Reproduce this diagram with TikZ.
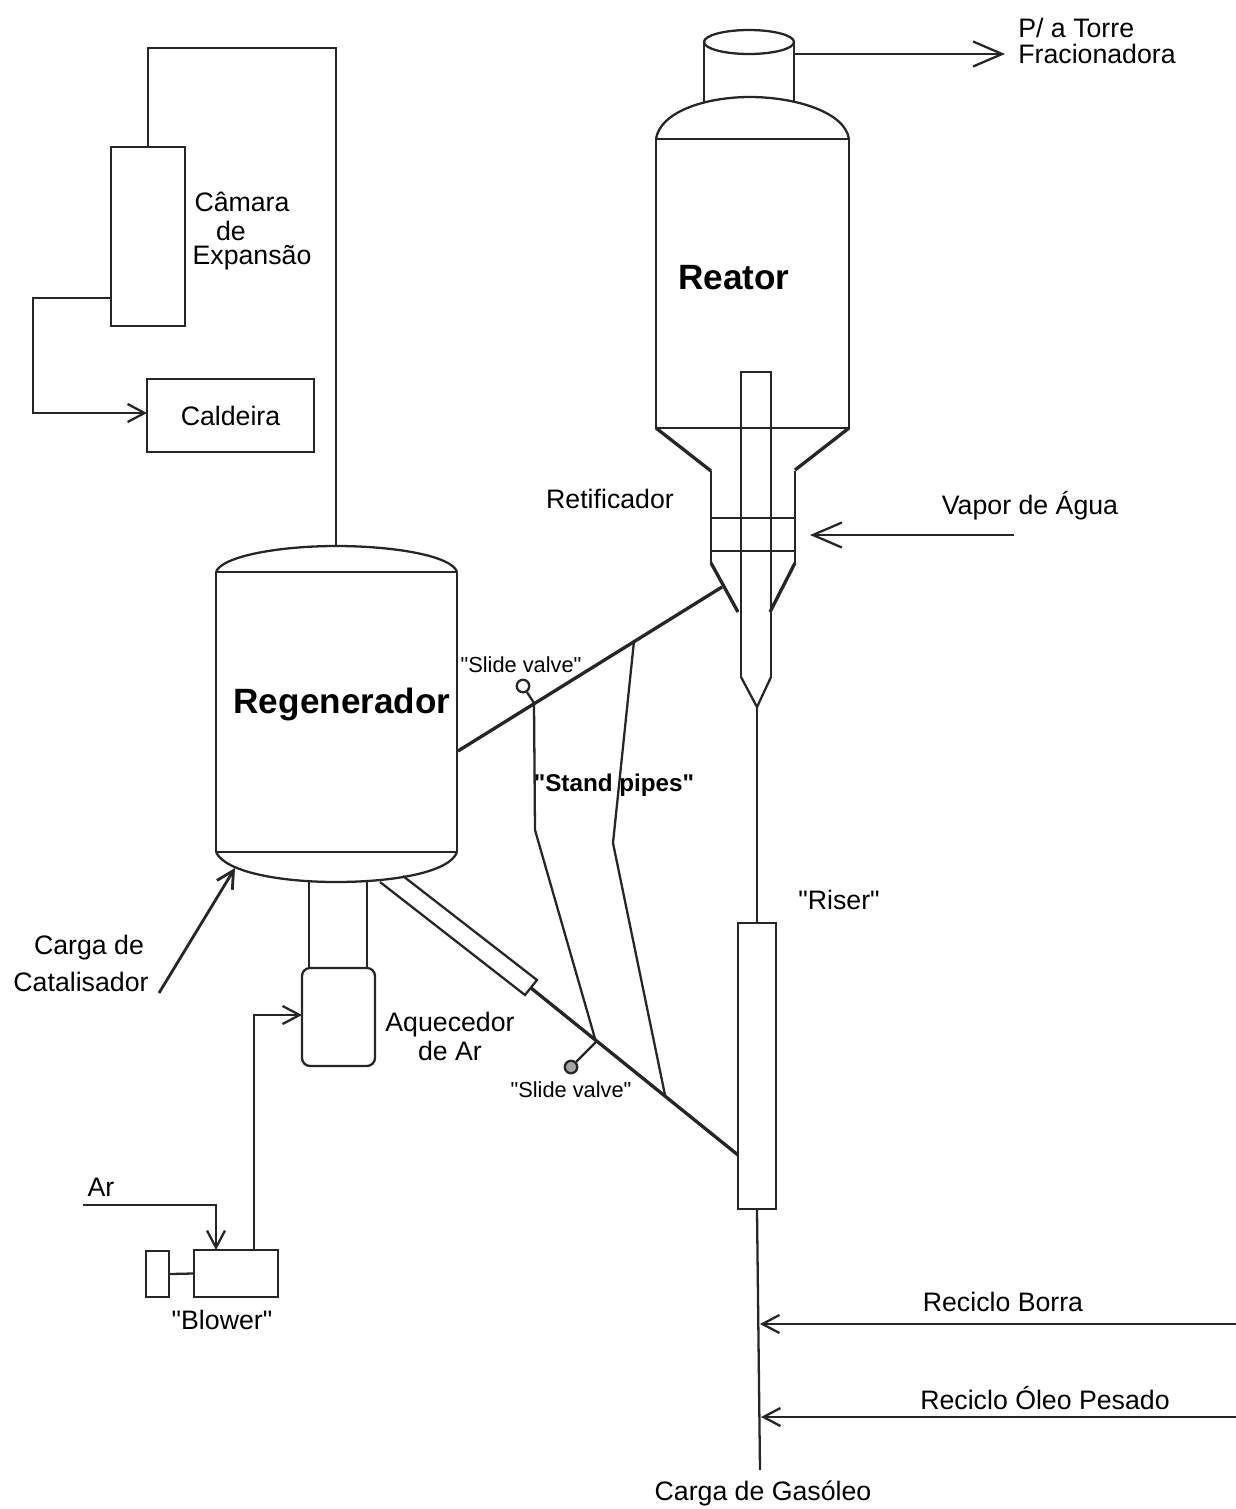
\documentclass[tikz,border=0pt]{standalone}
\usepackage{fontspec}
\setmainfont{Liberation Sans}
\newfontfamily\plainquote{Liberation Sans}
\newcommand\quoted[1]{{\plainquote"#1"}}
\usetikzlibrary{arrows.meta}

\tikzset{
  line/.style={line width=1.3pt,black!85},
  pipe/.style={line width=1.9pt,black!85},
  bigflow/.style={line,-{Straight Barb[length=0.58cm,width=0.5cm]}},
  smallflow/.style={line,-{Straight Barb[length=0.34cm,width=0.36cm]}},
  unitbox/.style={draw,line,text=black,inner sep=0pt,align=center},
  labeltext/.style={inner sep=0pt,align=center,font=\fontsize{15.2}{16}\selectfont},
  smalltext/.style={inner sep=0pt,font=\fontsize{12.4}{14}\selectfont},
  titletext/.style={inner sep=0pt,font=\fontsize{20}{24}\selectfont\bfseries},
  valveball/.style={circle,draw,line,inner sep=0pt,minimum size=0.25cm}
}

\begin{document}
\begin{tikzpicture}[x=0.02cm,y=-0.02cm]
\useasboundingbox (0,0) rectangle (1236,1509);

% Reactor
\draw[line] (749,42) ellipse [x radius=45,y radius=12];
\draw[line] (704,42) -- (704,102);
\draw[line] (794,42) -- (794,102);
\draw[line] (656,139) .. controls (660,112) and (705,97) .. (750,97)
    .. controls (795,97) and (845,112) .. (849,139);
\draw[line] (656,139) -- (849,139);
\draw[line] (656,139) -- (656,428) -- (849,428) -- (849,139);
\draw[pipe] (656,428) -- (711,471);
\draw[pipe] (849,428) -- (795,470);
\draw[line] (711,471) -- (711,563);
\draw[line] (795,471) -- (795,563);
\draw[pipe] (711,563) -- (738,612);
\draw[pipe] (795,563) -- (770,612);
\draw[line] (711,518) -- (795,518);
\draw[line] (711,551) -- (795,551);
\node[titletext] (reator) at (734,278) {Reator};

% Inner tube of the riser
\draw[line] (741,677) -- (741,372) -- (771,372) -- (771,677);
\draw[line] (741,677) -- (757,707) -- (771,677);
\coordinate (risertip) at (757,707);
\node[unitbox,minimum width=0.76cm,minimum height=5.72cm] (riser) at (757,1066) {};
\coordinate (feedend) at (760,1470);
\draw[line] (risertip) -- (riser.north);
\draw[line] (riser.south) -- (feedend);

% Regenerator
\draw[line] (216,572) .. controls (222,556) and (280,546) .. (336,546)
    .. controls (395,546) and (452,556) .. (457,572);
\draw[line] (216,572) -- (457,572);
\draw[line] (216,572) -- (216,852);
\draw[line] (457,572) -- (457,852);
\draw[line] (216,852) -- (457,852);
\draw[line] (216,852) .. controls (225,872) and (280,882) .. (336,882)
    .. controls (395,882) and (450,872) .. (457,852);
\node[titletext] (regenerador) at (342,704) {Regenerador};

% Flue gas side
\node[unitbox,minimum width=1.48cm,minimum height=3.58cm] (camara) at (148,236.5) {};
\node[unitbox,minimum width=3.34cm,minimum height=1.46cm,font=\fontsize{15.2}{16}\selectfont] (caldeira) at (230.5,415.5) {Caldeira};
\coordinate (regentop) at (336,546);
\coordinate (fluecorner) at (336,48);
\draw[line] (regentop) -- (fluecorner) -| (camara.north);
\coordinate (camaraout) at (111,298);
\coordinate (caldeirain) at (147,413);
\coordinate (boilerbend) at (33,298);
\draw[smallflow] (camaraout) -- (boilerbend) |- (caldeirain);
\node[labeltext] (camaralabel) at (242,202) {Câmara};
\node[labeltext] (delabel) at (231,231) {de};
\node[labeltext] (expansao) at (252,258) {Expansão};

% Air heater and blower
\draw[line] (309,882) -- (309,968);
\draw[line] (367,882) -- (367,968);
\node[unitbox,rounded corners=0.16cm,minimum width=1.46cm,minimum height=1.96cm] (aquecedor) at (338.5,1017) {};
\node[unitbox,minimum width=1.68cm,minimum height=0.94cm] (blower) at (236,1273.5) {};
\node[unitbox,minimum width=0.46cm,minimum height=0.92cm] (motor) at (157.5,1274) {};
\draw[line] (motor.east) -- (blower.west);
\coordinate (blowerout) at (254,1250);
\coordinate (heaterin) at (302,1015);
\draw[smallflow] (blowerout) |- (heaterin);
\coordinate (airstart) at (83,1205);
\coordinate (blowerin) at (216,1250);
\draw[smallflow] (airstart) -| (blowerin);
\node[labeltext] (aquecedorlabel) at (450,1036) {Aquecedor\\[0.5pt]de Ar};
\node[labeltext] (ar) at (101,1187) {Ar};
\node[labeltext] (blowerlabel) at (222,1320) {\quoted{Blower}};

% Catalyst lines
\coordinate (regenout) at (458,751);
\coordinate (strippeout) at (722,587);
\draw[pipe] (regenout) -- (strippeout);
\coordinate (upjointa) at (534,703);
\coordinate (upjointb) at (634,641);
\coordinate (lowjointa) at (596,1042);
\coordinate (lowjointb) at (665,1095);
\coordinate (riserin) at (738,1155);
\coordinate (sleeveend) at (531,988);
\draw[line] (380,882) -- (525,995) -- (537,980) -- (403,876);
\draw[pipe] (sleeveend) -- (riserin);
\coordinate (bendleft) at (535,830);
\coordinate (bendright) at (613,843);
\draw[line] (upjointa) -- (bendleft) -- (lowjointa);
\draw[line] (upjointb) -- (bendright) -- (lowjointb);

% Slide valves
\node[valveball] (valveup) at (523,686) {};
\draw[line] (valveup) -- (upjointa);
\node[valveball,fill=black!35] (valvedown) at (571,1067) {};
\draw[line] (valvedown) -- (lowjointa);
\node[smalltext] (slideup) at (521,665) {\quoted{Slide valve}};
\node[smalltext] (slidedown) at (571,1090) {\quoted{Slide valve}};
\node[labeltext,font=\fontsize{13.8}{16}\selectfont\bfseries] (standpipes) at (614,785) {\quoted{Stand pipes}};
\node[labeltext] (riserlabel) at (839,900) {\quoted{Riser}};
\node[labeltext] (retificador) at (610,499) {Retificador};

% Feeds and products
\coordinate (topout) at (795,54);
\coordinate (topend) at (1005,54);
\draw[bigflow] (topout) -- (topend);
\node[labeltext,align=left,anchor=west] (torre) at (1018,41) {P/ a Torre\\[-1pt]Fracionadora};

\coordinate (steamstart) at (1014,535);
\coordinate (steamend) at (810,535);
\draw[bigflow] (steamstart) -- (steamend);
\node[labeltext] (vapor) at (1030,506) {Vapor de Água};

\coordinate (cargastart) at (159,993);
\coordinate (cargaend) at (235,868);
\draw[smallflow,line width=1.6pt] (cargastart) -- (cargaend);
\node[labeltext] (cargade) at (89,948) {Carga de};
\node[labeltext] (catalisador) at (81,982) {Catalisador};

\coordinate (borrastart) at (1236,1324);
\coordinate (borraend) at (760,1324);
\draw[smallflow] (borrastart) -- (borraend);
\node[labeltext] (borra) at (1003,1302) {Reciclo Borra};

\coordinate (oleostart) at (1236,1417);
\coordinate (oleoend) at (761,1417);
\draw[smallflow] (oleostart) -- (oleoend);
\node[labeltext] (oleo) at (1045,1398) {Reciclo Óleo Pesado};

\node[labeltext] (gasoleo) at (763,1493) {Carga de Gasóleo};

\end{tikzpicture}
\end{document}
